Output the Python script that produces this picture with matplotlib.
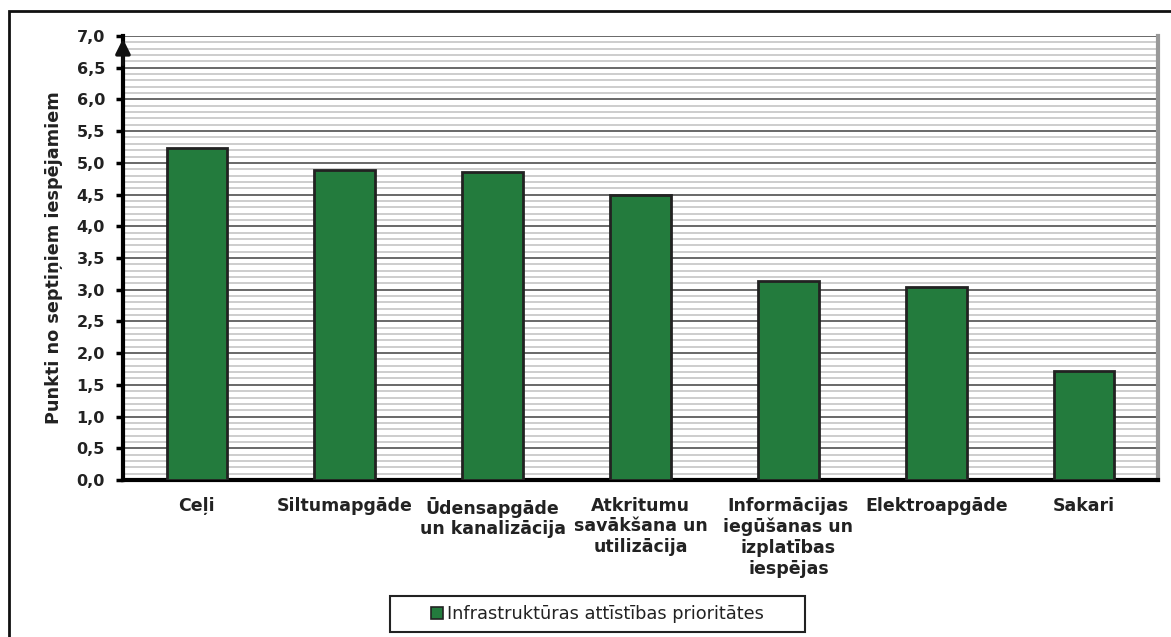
import numpy as np
import matplotlib
matplotlib.use('Agg')
import matplotlib.pyplot as plt
from matplotlib.patches import Rectangle
from matplotlib.ticker import MultipleLocator, FuncFormatter

# Data
categories = ['Ceļi', 'Siltumapgāde', 'Ūdensapgāde\nun kanalizācija',
              'Atkritumu\nsavākšana un\nutilizācija',
              'Informācijas\niegūšanas un\nizplatības\niespējas',
              'Elektroapgāde', 'Sakari']
scores = [5.24, 4.89, 4.85, 4.50, 3.14, 3.05, 1.72]
series_name = 'Infrastruktūras attīstības prioritātes'
y_label = 'Punkti no septiņiem iespējamiem'

bar_color = '#237b3d'
text_color = '#222222'

fig = plt.figure(figsize=(11.71, 6.37), dpi=100)
ax = fig.add_axes([0.105, 0.2465, 0.884, 0.697])

x = np.arange(len(categories))
ax.bar(x, scores, width=0.41, color=bar_color, edgecolor='#222222',
       linewidth=2, zorder=3, label=series_name)

ax.set_xlim(-0.5, len(categories) - 0.5)
ax.set_ylim(0, 7)

# grid: light minor every 0.1, dark major every 0.5
ax.yaxis.set_major_locator(MultipleLocator(0.5))
ax.yaxis.set_minor_locator(MultipleLocator(0.1))
ax.grid(which='minor', axis='y', color='#cdcdcd', linewidth=1.4, zorder=0)
ax.grid(which='major', axis='y', color='#404040', linewidth=1.1, zorder=1)
ax.yaxis.set_major_formatter(FuncFormatter(lambda v, p: f'{v:.1f}'.replace('.', ',')))

ax.tick_params(axis='y', which='major', length=5, width=2.5, direction='out',
               labelsize=11.5, pad=8)
ax.tick_params(axis='y', which='minor', length=0)
for lab in ax.get_yticklabels():
    lab.set_fontweight('bold')
    lab.set_color(text_color)

ax.set_xticks(x)
ax.set_xticklabels(categories, fontsize=12.5, fontweight='bold',
                   linespacing=1.2, va='top', color=text_color)
ax.tick_params(axis='x', length=0, pad=12)

ax.set_ylabel(y_label, fontsize=12.7, fontweight='bold', labelpad=10, color=text_color)

ax.spines['top'].set_visible(False)
ax.spines['left'].set_linewidth(3)
ax.spines['bottom'].set_linewidth(3)
ax.spines['right'].set_color('#999999')
ax.spines['right'].set_linewidth(3)

# arrow head on top of the y axis
ax.annotate('', xy=(0, 1.0), xycoords='axes fraction', xytext=(0, 0.93),
            arrowprops=dict(arrowstyle='-|>', color='#111111', lw=2.5,
                            mutation_scale=22), zorder=6)

# legend without its own frame, box drawn separately (wider side padding)
leg = fig.legend(loc='center', bbox_to_anchor=(0.5105, 0.036), frameon=False,
                 handlelength=0.65, handleheight=0.65, handletextpad=0.25,
                 borderpad=0.5, borderaxespad=0, prop={'size': 12.8})
leg.legend_handles[0].set_linewidth(1.2)
for lab in leg.get_texts():
    lab.set_color(text_color)
fig.patches.append(Rectangle((390 / 1171, 1 - 632 / 637), 415 / 1171, 36 / 637,
                             transform=fig.transFigure, fill=False,
                             edgecolor='#222222', linewidth=1.5))

# outer chart border
fig.patches.append(Rectangle((9 / 1171, -0.05), 1.1, 1 - 11 / 637 + 0.05,
                             transform=fig.transFigure, fill=False,
                             edgecolor='#111111', linewidth=2))

fig.savefig('out.png', dpi=100)
